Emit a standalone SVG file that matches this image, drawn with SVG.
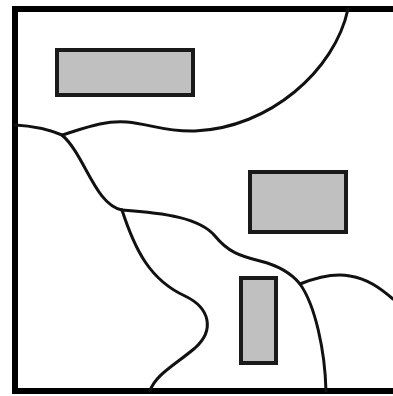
<svg xmlns="http://www.w3.org/2000/svg" width="393" height="396" viewBox="0 0 393 396">
<style>
.frame{fill:none;stroke:#000;stroke-width:6}
.line{fill:none;stroke:#111;stroke-width:3;stroke-linecap:round;stroke-linejoin:round}
.box{fill:#c0c0c0;stroke:#1a1a1a;stroke-width:4}
</style>
<rect width="393" height="396" fill="#fff"/>
<path class="frame" d="M393,9 H15 V391 H393"/>
<g id="connectors">
<path class="line" d="M15,125 C35,126 50,130 62,135 C85,128 105,120 127,122 C150,124 165,132 195,131 C270,128 335,70 348,9"/>
<path class="line" d="M62,135 C85,155 95,205 122,210"/>
<path class="line" d="M122,210 C165,213 200,218 215,236 C228,252 240,256 260,261 C280,266 292,274 300,284 C315,305 325,350 326,391"/>
<path class="line" d="M300,284 C315,278 335,273 350,276 C368,279 380,288 393,299"/>
<path class="line" d="M122,210 C135,250 150,280 185,296 C210,308 215,330 195,348 C175,365 155,375 150,391"/>
</g>
<g id="box1"><rect class="box" x="57" y="50" width="136" height="45"/></g>
<g id="box2"><rect class="box" x="250" y="172" width="96" height="60"/></g>
<g id="box3"><rect class="box" x="241" y="278" width="35" height="85"/></g>
</svg>
